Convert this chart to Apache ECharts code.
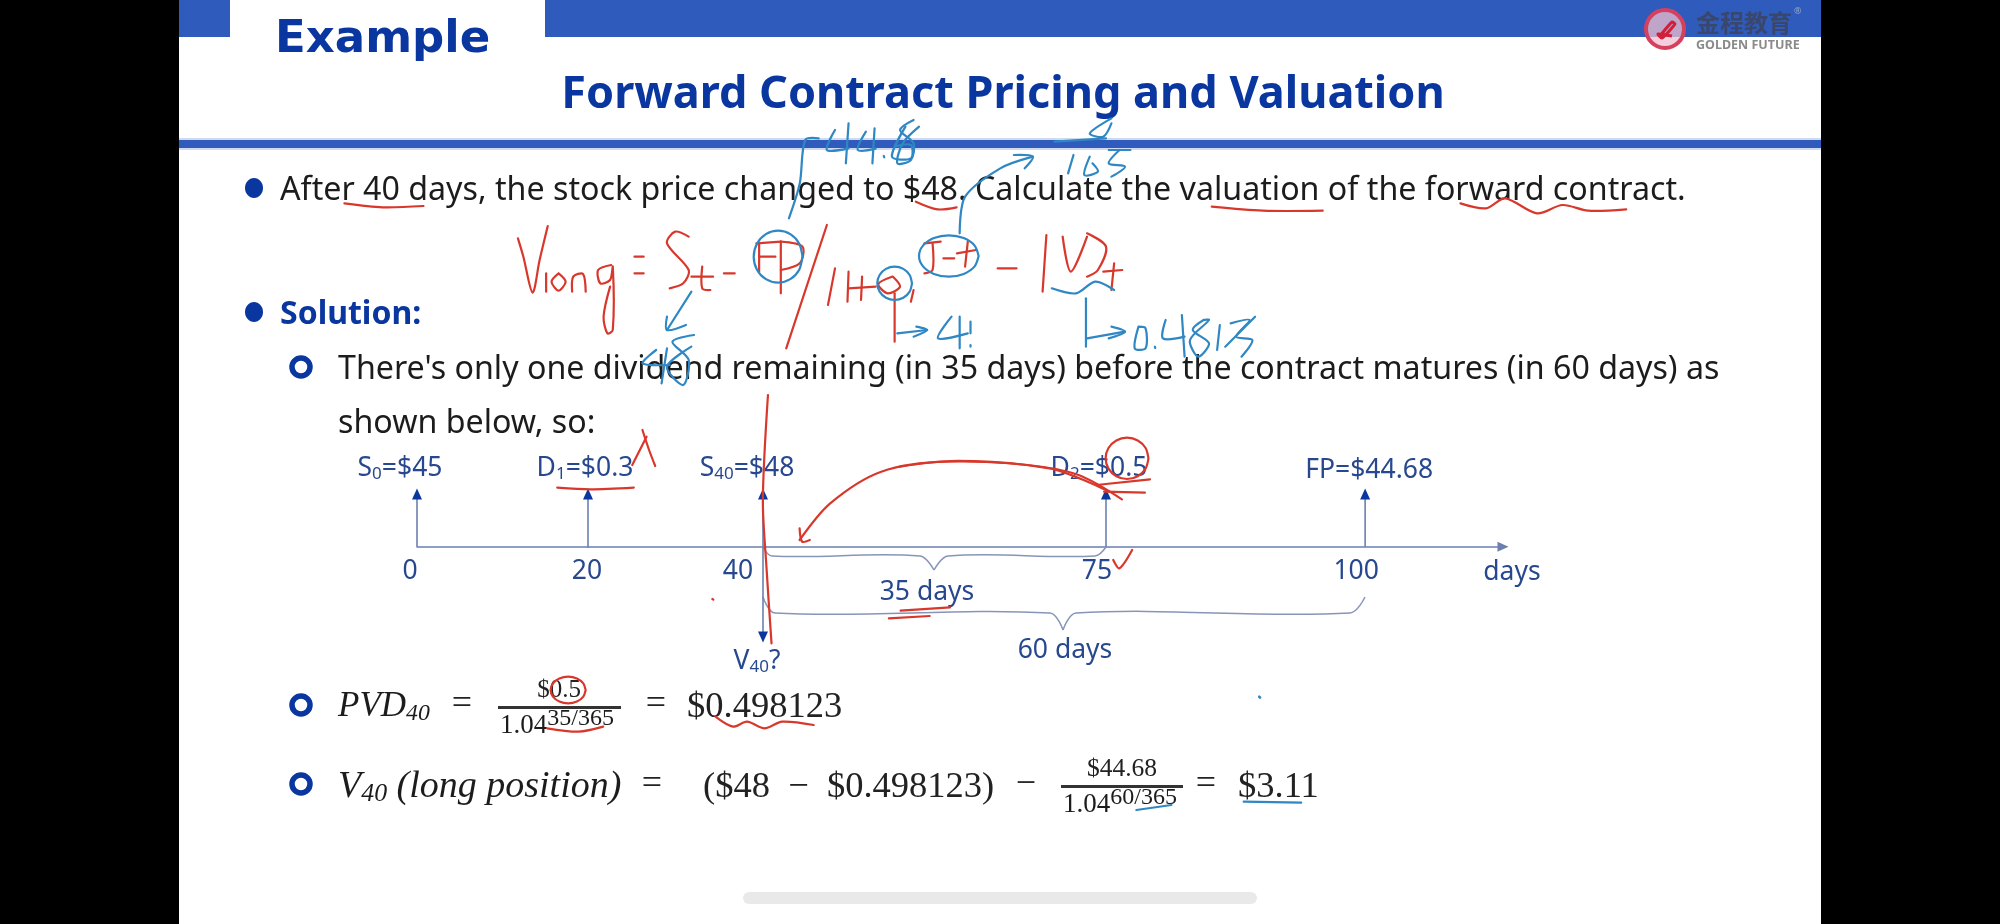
<!DOCTYPE html>
<html>
<head>
<meta charset="utf-8">
<style>html,body{margin:0;background:#000}#main{width:2000px;height:924px}</style>
<script src="https://cdn.jsdelivr.net/npm/echarts@6/dist/echarts.min.js"></script>
</head>
<body>
<div id="main"></div>
<script>
// timeline values
const days = [0, 20, 40, 75, 100];
const dayLabels = ['0', '20', '40', '75', '100'];
const eventLabels = ['{t|S}{s|0}{t|=$45}', '{t|D}{s|1}{t|=$0.3}', '{t|S}{s|40}{t|=$48}', '{t|D}{s|2}{t|=$0.5}', '{t|FP=$44.68}'];
const arrowHeights = [1, 1, 1, 1, 1];
const valueDay = 40;
const valueArrow = -1.71;

// the slide's timeline is not to scale, so every stretch gets its own linear axis
const segmentDays = [0, 20, 40, 75, 113.3];
const segmentLeft = [417, 588, 763, 1106, 1503];
const tickOffset = [[-7, 25], [-1, 25], [-25, 25], [-9, 25], [-9, 25]];
const eventOffset = [[-17, -26], [-3, -26], [-16, -26], [-7, -26], [4, -24]];

const BLUE = '#2f5bbd', DEEP = '#0a36a0', TL = '#27488f', AXIS = '#6b80b0';
const RED = '#d8382c', PEN = '#2f87c4';
const FONT = '"Noto Sans"', SERIF = '"Liberation Serif"';
const TL_SIZE = 26.5;

const grids = [], xAxes = [], yAxes = [], series = [];
segmentDays.slice(0, -1).forEach(function (start, i) {
    const last = i === segmentDays.length - 2;
    grids.push({left: segmentLeft[i], width: segmentLeft[i + 1] - segmentLeft[i], top: 494, height: 143});
    xAxes.push({
        type: 'value', gridIndex: i, min: start, max: segmentDays[i + 1],
        axisLine: {show: true, onZero: true, symbol: last ? ['none', 'triangle'] : 'none', symbolSize: [10, 11], lineStyle: {color: AXIS, width: 1.6}},
        axisTick: {show: false}, axisLabel: {show: false}, splitLine: {show: false}
    });
    yAxes.push({type: 'value', gridIndex: i, min: valueArrow, max: 1, show: false, splitLine: {show: false}});
});

function arrowSeries(seg, day, h) {
    return {
        type: 'line', xAxisIndex: seg, yAxisIndex: seg, clip: false, z: 3, animation: false,
        lineStyle: {color: AXIS, width: 1.6}, itemStyle: {color: DEEP}, silent: true,
        data: [
            {value: [day, 0], symbol: 'none'},
            {value: [day, h], symbol: 'triangle', symbolSize: [10, 11], symbolRotate: h < 0 ? 180 : 0}
        ]
    };
}
function labelItem(day, y, text, offset) {
    return {value: [day, y], label: {show: true, position: 'inside', formatter: text, offset: offset, color: TL, fontSize: TL_SIZE, fontFamily: FONT,
        rich: {t: {color: TL, fontSize: TL_SIZE, fontFamily: FONT}, s: {color: TL, fontSize: 17, fontFamily: FONT, verticalAlign: 'bottom', padding: [12, 0, 0, 0]}}}};
}
days.forEach(function (day, k) {
    const seg = Math.min(segmentDays.findIndex(function (d, i) { return day >= d && day < segmentDays[i + 1]; }), grids.length - 1);
    series.push(arrowSeries(seg, day, arrowHeights[k]));
    if (day === valueDay) series.push(arrowSeries(seg, day, valueArrow));
    const items = [
        labelItem(day, 0, dayLabels[k], tickOffset[k]),
        labelItem(day, arrowHeights[k], eventLabels[k], eventOffset[k])
    ];
    if (day === valueDay) items.push(labelItem(day, valueArrow, '{t|V}{s|40}{t|?}', [-6, 24]));
    series.push({type: 'scatter', xAxisIndex: seg, yAxisIndex: seg, clip: false, z: 4, silent: true, animation: false,
        symbolSize: 1, itemStyle: {color: 'transparent', opacity: 1}, data: items});
});

// slide furniture
const graphic = [];
function rect(x, y, w, h, fill, r, z) { graphic.push({type: 'rect', z: z || 0, silent: true, shape: {x: x, y: y, width: w, height: h, r: r || 0}, style: {fill: fill}}); }
function text(x, y, s, size, opt) {
    opt = opt || {};
    graphic.push({type: 'text', z: opt.z || 3, silent: true, x: x, y: y, style: Object.assign({
        text: s, fill: opt.color || '#1c1c1c', font: (opt.style || '') + ' ' + (opt.weight || '') + ' ' + size + 'px ' + (opt.family || FONT),
        align: opt.align || 'left', verticalAlign: 'middle'}, opt.rich ? {rich: opt.rich} : {})});
}
function ring(x, y) { graphic.push({type: 'circle', z: 3, silent: true, shape: {cx: x, cy: y, r: 9}, style: {fill: '#fff', stroke: DEEP, lineWidth: 5.5}}); }
function dot(x, y) { graphic.push({type: 'ellipse', z: 3, silent: true, shape: {cx: x, cy: y, rx: 9, ry: 10}, style: {fill: DEEP}}); }

rect(179, 0, 1642, 924, '#fff');
rect(179, 0, 51, 37, BLUE);
rect(545, 0, 1276, 37, BLUE);
rect(179, 138, 1642, 12, '#cfdaf0');
rect(179, 140, 1642, 8, BLUE);
rect(743, 892, 514, 12, '#e9e9e9', 6);

text(275, 40, 'Example', 45, {weight: 'bold', color: DEEP, family: '"DejaVu Sans"'});
text(1003, 95, 'Forward Contract Pricing and Valuation', 45, {weight: 'bold', color: DEEP, align: 'center'});

// logo
graphic.push({type: 'circle', z: 3, silent: true, shape: {cx: 1665, cy: 29, r: 19}, style: {fill: 'rgba(240,190,205,0.75)', stroke: '#d6405f', lineWidth: 4}});
graphic.push({type: 'polyline', z: 4, silent: true, shape: {points: [[1660, 36], [1672, 22], [1675, 24], [1662, 38], [1658, 34], [1672, 36]], smooth: 0.2}, style: {fill: 'none', stroke: '#d11f3a', lineWidth: 3}});
text(1696, 23, '金程教育', 24, {color: '#39476c', weight: 'bold', family: '"Noto Sans CJK SC"'});
text(1696, 45, 'GOLDEN FUTURE', 12.5, {color: '#8a8a8a', weight: 'bold'});
text(1794, 11, '®', 9, {color: '#9aa6c4'});

dot(254, 188);
text(280, 191, 'After 40 days, the stock price changed to $48. Calculate the valuation of the forward contract.', 32.2);
dot(254, 312);
text(280, 315, 'Solution:', 32, {weight: 'bold', color: DEEP});
ring(301, 367);
text(338, 370, "There's only one dividend remaining (in 35 days) before the contract matures (in 60 days) as", 32.2);
text(338, 424, 'shown below, so:', 32.2);

text(927, 592, '35 days', TL_SIZE, {color: TL, align: 'center'});
text(1065, 650, '60 days', TL_SIZE, {color: TL, align: 'center'});
text(1512, 572, 'days', TL_SIZE, {color: TL, align: 'center'});

// braces under the axis
function brace(pts) { graphic.push({type: 'polyline', z: 2, silent: true, shape: {points: pts, smooth: 0.35}, style: {fill: 'none', stroke: '#8795b8', lineWidth: 1.5}}); }
brace([[763, 547], [772, 556], [920, 556], [934, 570]]);
brace([[934, 570], [948, 556], [1095, 556], [1106, 547]]);
brace([[763, 597], [775, 613], [1050, 613], [1063, 630]]);
brace([[1063, 630], [1076, 613], [1350, 613], [1365, 597]]);

// formulas
const INK_TEXT = '#222';
function mathRich(size) {
    return {
        m: {fontFamily: SERIF, fontStyle: 'italic', fontSize: size, color: INK_TEXT},
        b: {fontFamily: SERIF, fontStyle: 'italic', fontSize: size * 0.68, color: INK_TEXT, verticalAlign: 'bottom', padding: [14, 0, 0, 0]},
        n: {fontFamily: SERIF, fontSize: 27, color: INK_TEXT},
        u: {fontFamily: SERIF, fontSize: 24, color: INK_TEXT, verticalAlign: 'top', padding: [0, 0, 14, 0]}
    };
}
const mathOpt = {family: SERIF, color: INK_TEXT};
const mathC = Object.assign({align: 'center'}, mathOpt);
ring(301, 705);
text(338, 707, '{m|PVD}{b|40}', 35, {rich: mathRich(35)});
text(462, 705, '=', 36, mathC);
text(559, 690, '$0.5', 25, mathC);
rect(498, 706, 123, 3, '#333', 0, 3);
text(500, 726, '{n|1.04}{u|35/365}', 27, {rich: mathRich(35)});
text(656, 705, '=', 36, mathC);
text(687, 707, '$0.498123', 36.5, mathOpt);

ring(301, 784);
text(338, 787, '{m|V}{b|40}{m| (long position)}', 38, {rich: mathRich(38)});
text(652, 785, '=', 36, mathC);
text(703, 787, '($48  −  $0.498123)', 36.5, mathOpt);
text(1026, 785, '−', 36, mathC);
text(1122, 769, '$44.68', 25.5, mathC);
rect(1061, 785, 122, 3, '#333', 0, 3);
text(1063, 805, '{n|1.04}{u|60/365}', 27, {rich: mathRich(35)});
text(1206, 785, '=', 36, mathC);
text(1238, 787, '$3.11', 36.5, mathOpt);

// teacher's pen marks, traced in crop coordinates
const z1 = function (p) { return p.map(function (a) { return [a[0] * 1.2755, a[1] / 3]; }); };
const z2 = function (p) { return p.map(function (a) { return [320 + a[0] / 1.96, 400 + a[1] / 3]; }); };
const z3 = function (p) { return p.map(function (a) { return [900 + a[0] / 1.96, 400 + a[1] / 3]; }); };
const z4 = function (p) { return p.map(function (a) { return [270 + a[0] * 0.7015, 660 + a[1] / 3]; }); };
const z5 = function (p) { return p.map(function (a) { return [480 + a[0] * 0.542, 100 + a[1] / 3]; }); };

function ink(color, pts) {
    graphic.push({type: 'polyline', z: 10, silent: true, shape: {points: pts, smooth: 0.3},
        style: {fill: 'none', stroke: color, lineWidth: 2.2, lineCap: 'round', lineJoin: 'round'}});
}
function loop(color, zf, cx, cy, rx, ry) {
    const pts = [];
    for (let a = 0; a <= 12; a++) pts.push([cx + rx * Math.cos(a * Math.PI / 6), cy + ry * Math.sin(a * Math.PI / 6)]);
    ink(color, zf(pts));
}

[
    // V long = S t - FP / (1+r) T-t - PVD t
    [[70, 415], [80, 470], [97, 578], [110, 480], [125, 378]],
    [[122, 520], [122, 575]],
    [[145, 520], [132, 545], [145, 572], [158, 545], [145, 520]],
    [[170, 575], [172, 530], [190, 522], [195, 575]],
    [[242, 495], [218, 510], [222, 550], [240, 540], [245, 500], [245, 690], [235, 700], [228, 650], [240, 560]],
    [[285, 470], [302, 470]], [[285, 520], [302, 520]],
    [[385, 410], [360, 395], [345, 430], [385, 510], [375, 550], [350, 565]],
    [[410, 500], [410, 565], [425, 570]], [[390, 530], [430, 530]],
    [[450, 520], [470, 520]],
    [[510, 430], [555, 425]], [[515, 430], [515, 515]], [[515, 470], [545, 470]],
    [[555, 425], [595, 440], [590, 490], [555, 510]], [[555, 425], [555, 580]],
    [[640, 375], [565, 745]],
    [[655, 505], [642, 615]], [[680, 515], [678, 605]], [[680, 565], [730, 560]], [[705, 530], [703, 600]],
    [[760, 530], [735, 552], [752, 580], [775, 560], [762, 530]],
    [[765, 580], [765, 725]], [[800, 570], [795, 605]],
    [[820, 430], [850, 425]], [[835, 430], [835, 510], [820, 520]], [[855, 475], [875, 475]],
    [[900, 425], [895, 500]], [[880, 460], [915, 450]],
    [[955, 505], [990, 505]],
    [[1045, 405], [1038, 575]], [[1075, 410], [1090, 515], [1120, 410]], [[1120, 400], [1155, 440], [1140, 510], [1120, 530]],
    [[1170, 490], [1165, 570]], [[1150, 515], [1185, 510]]
].forEach(function (s) { ink(RED, z5(s)); });

[
    [[570, 355], [590, 250], [600, 120], [625, 115]],
    [[655, 90], [640, 150], [680, 145]], [[680, 70], [675, 190]],
    [[712, 95], [697, 150], [730, 146]], [[728, 85], [724, 190]], [[745, 168], [746, 172]],
    [[785, 80], [760, 170], [795, 175], [795, 135], [765, 140]],
    [[800, 60], [775, 90], [800, 130], [795, 180], [770, 190], [780, 130], [810, 80]],
    [[885, 400], [895, 290], [960, 205], [1020, 170]], [[985, 165], [1020, 170], [1005, 205]],
    [[1165, 55], [1125, 100], [1150, 110], [1165, 70]], [[1060, 125], [1155, 115]],
    [[1095, 165], [1085, 220]], [[1125, 170], [1115, 225], [1140, 215], [1130, 190]], [[1160, 150], [1200, 150]], [[1180, 150], [1160, 190], [1190, 200], [1165, 230]],
    [[1055, 565], [1100, 580], [1135, 545], [1170, 570]],
    [[1118, 595], [1118, 740]], [[1120, 715], [1190, 695]], [[1165, 680], [1190, 695], [1160, 715]],
    [[1215, 680], [1208, 745], [1228, 745], [1228, 685], [1215, 680]], [[1245, 740], [1246, 744]],
    [[1265, 660], [1260, 715], [1300, 710]], [[1295, 645], [1300, 770]],
    [[1335, 660], [1315, 690], [1345, 730], [1325, 770], [1310, 720], [1345, 660], [1335, 660]],
    [[1365, 675], [1360, 750]], [[1385, 670], [1420, 660], [1395, 710], [1425, 720], [1405, 770]],
    [[1430, 650], [1375, 740]],
    [[390, 575], [345, 690]], [[345, 650], [345, 690], [380, 675]],
    [[325, 750], [300, 790], [350, 795]], [[345, 745], [335, 850]],
    [[395, 705], [355, 725], [385, 780], [375, 855], [345, 800], [390, 740]],
    [[770, 700], [825, 690]], [[805, 680], [825, 690], [800, 710]],
    [[870, 650], [845, 715], [900, 700]], [[885, 650], [885, 745]], [[905, 665], [905, 700]], [[905, 735], [905, 740]]
].forEach(function (s) { ink(PEN, z5(s)); });
loop(PEN, z5, 550, 470, 45, 78);
loop(PEN, z5, 865, 468, 55, 62);
loop(PEN, z5, 765, 550, 32, 50);

[
    [[270, 610], [300, 622], [332, 618]],
    [[718, 605], [735, 628], [750, 622]],
    [[950, 620], [990, 632], [1037, 632]],
    [[1145, 610], [1165, 625], [1180, 595], [1205, 640], [1225, 615], [1245, 632], [1275, 628]]
].forEach(function (s) { ink(RED, z1(s)); });

[
    [[878, -15], [868, 300], [875, 500], [885, 730]],
    [[632, 90], [645, 150], [657, 198]], [[640, 110], [612, 195]],
    [[465, 263], [530, 268], [615, 263]],
    [[1540, 270], [1430, 205], [1230, 185], [1100, 215], [1000, 310], [940, 420]],
    [[940, 385], [945, 425], [960, 420]],
    [[1138, 632], [1235, 622]], [[1115, 655], [1195, 648]],
    [[769, 597], [771, 599]]
].forEach(function (s) { ink(RED, z2(s)); });

[
    [[0, 200], [100, 183], [250, 195], [350, 225], [435, 298]],
    [[385, 255], [490, 238]], [[400, 275], [480, 278]],
    [[418, 480], [430, 505], [455, 450]]
].forEach(function (s) { ink(RED, z3(s)); });
loop(RED, z3, 445, 175, 42, 62);
ink(PEN, z3([[704, 890], [706, 892]]));

[
    [[395, 205], [440, 215], [475, 200]],
    [[635, 170], [660, 200], [680, 185], [705, 205], [730, 185], [775, 195]]
].forEach(function (s) { ink(RED, z4(s)); });
loop(RED, z4, 425, 90, 25, 40);
[
    [[1235, 450], [1285, 435]],
    [[1388, 425], [1470, 428]],
    [[1410, 110], [1411, 113]]
].forEach(function (s) { ink(PEN, z4(s)); });

const chart = echarts.init(document.getElementById('main'));
chart.setOption({
    animation: false,
    backgroundColor: '#000',
    grid: grids,
    xAxis: xAxes,
    yAxis: yAxes,
    series: series,
    graphic: {elements: graphic}
});
</script>
</body>
</html>
